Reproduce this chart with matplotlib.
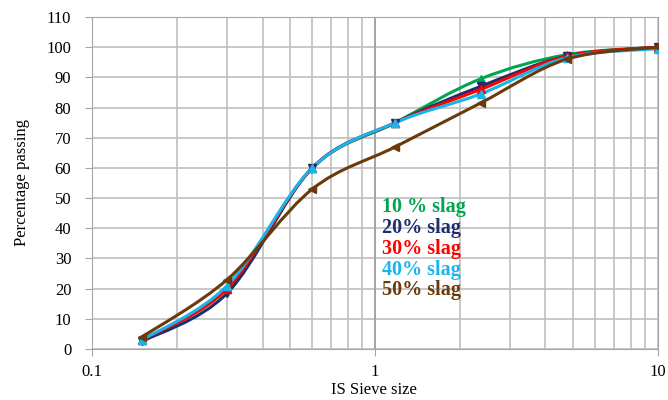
import numpy as np
import matplotlib.pyplot as plt
from matplotlib.path import Path
from matplotlib.patches import PathPatch

plt.rcParams['font.family'] = ['Liberation Serif', 'DejaVu Serif']

sieve = [0.15, 0.3, 0.6, 1.18, 2.36, 4.75, 10]
labels = ['10 % slag', '20% slag', '30% slag', '40% slag', '50% slag']
passing = {
    '10 % slag': [3, 20, 60, 75, 89.5, 97.5, 100],
    '20% slag': [2.5, 18.5, 60, 75, 87, 97, 100],
    '30% slag': [3, 20, 60, 75, 86, 97, 100],
    '40% slag': [3, 21, 60, 75, 84.5, 96.5, 99.5],
    '50% slag': [4, 23, 53, 67, 81.5, 96, 100],
}
colors = ['#00a550', '#1f2d6e', '#ff0000', '#19b4ec', '#6b3a0b']
markers = ['^', 'v', '^', '^', '<']


def smooth_path(xs, ys):
    # Excel-style smoothed line: cubic bezier segments in log-x space
    lx = np.log10(xs)
    y = np.asarray(ys, float)
    n = len(lx)
    verts = [(xs[0], y[0])]
    codes = [Path.MOVETO]
    for i in range(n - 1):
        i0 = max(i - 1, 0)
        i3 = min(i + 2, n - 1)
        c1 = (lx[i] + (lx[i + 1] - lx[i0]) / 6, y[i] + (y[i + 1] - y[i0]) / 6)
        c2 = (lx[i + 1] - (lx[i3] - lx[i]) / 6, y[i + 1] - (y[i3] - y[i]) / 6)
        verts += [(10 ** c1[0], c1[1]), (10 ** c2[0], c2[1]), (xs[i + 1], y[i + 1])]
        codes += [Path.CURVE4] * 3
    return Path(verts, codes)


fig = plt.figure(figsize=(6.68, 4.0), dpi=100)
ax = fig.add_axes([0.138, 0.1275, 0.847, 0.83])
ax.set_xscale('log')
ax.set_xlim(0.1, 10)
ax.set_ylim(0, 110)
ax.set_yticks(range(0, 111, 10))
ax.set_xticks([0.1, 1, 10])
ax.set_xticklabels(['0.1', '1', '10'])
ax.grid(True, which='both', axis='x', color='#bfbfbf', lw=1.2)
ax.grid(True, which='major', axis='y', color='#bfbfbf', lw=1.2)
ax.axvline(1, color='#a0a0a0', lw=1.2)
ax.set_axisbelow(True)
for s in ax.spines.values():
    s.set_color('#a6a6a6')
ax.tick_params(which='both', color='#a6a6a6', labelsize=12, length=5)
ax.tick_params(axis='x', which='minor', length=0)
ax.tick_params(axis='x', pad=6)
ax.tick_params(axis='y', pad=10)

for lab, c, m in zip(labels, colors, markers):
    ax.add_patch(PathPatch(smooth_path(sieve, passing[lab]), fill=False,
                           edgecolor=c, lw=2.2, zorder=3))
    ax.plot(sieve, passing[lab], ls='none', marker=m, color=c, ms=6, zorder=4)

for i, (lab, c) in enumerate(zip(labels, colors)):
    ax.text(1.06, 47 - i * 6.9, lab, color=c, fontsize=14.5, fontweight='bold',
            va='center')

fig.text(0.56, 0.025, 'IS Sieve size', fontsize=12, ha='center', va='center')
ax.set_ylabel('Percentage passing', fontsize=12, labelpad=12)

fig.savefig('out.png', dpi=100)
